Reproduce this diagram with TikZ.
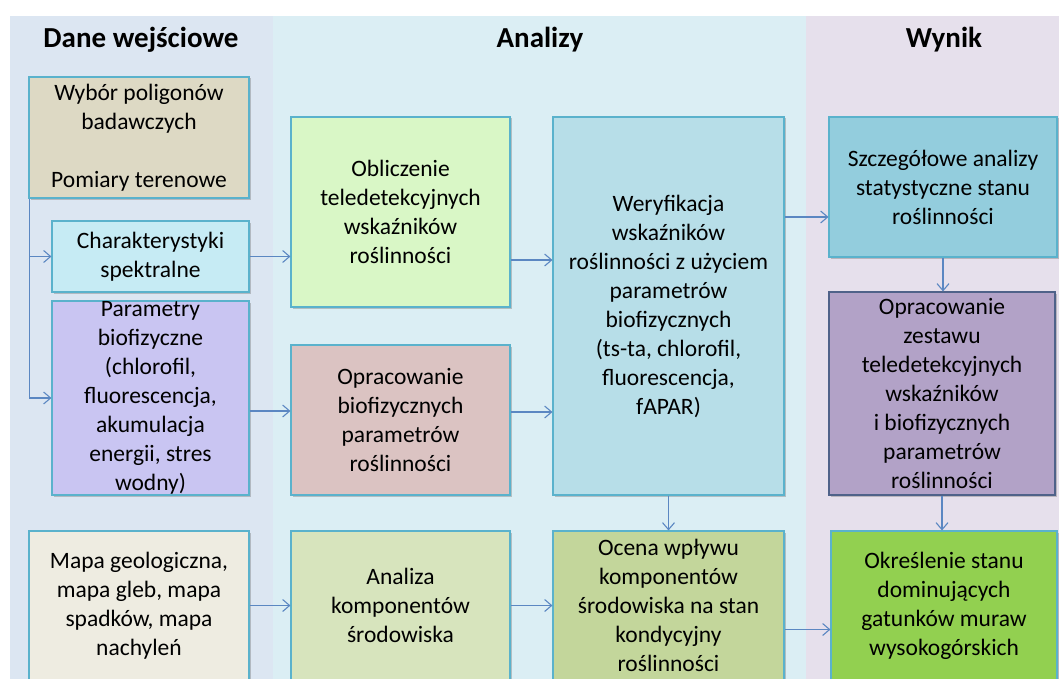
\documentclass[tikz,border=0pt]{standalone}
\usepackage{fontspec}
\setmainfont{Carlito}
\usetikzlibrary{arrows.meta,shadows}

% Kolory tła kolumn
\definecolor{tloA}{HTML}{DCE6F2}
\definecolor{tloB}{HTML}{DBEEF4}
\definecolor{tloC}{HTML}{E6E0EC}
% Kolory ramek i strzałek
\definecolor{ramka}{HTML}{5AB2CC}
\definecolor{ramkaZ}{HTML}{4F6289}
\definecolor{strzalki}{HTML}{5B87C2}
% Wypełnienia bloków
\definecolor{cWybor}{HTML}{DDD9C4}
\definecolor{cCharakt}{HTML}{C6EBF4}
\definecolor{cParam}{HTML}{C9C5F2}
\definecolor{cMapa}{HTML}{EEECE1}
\definecolor{cOblicz}{HTML}{D9F7C6}
\definecolor{cOprBio}{HTML}{DBC3C2}
\definecolor{cAnaliza}{HTML}{D7E4BD}
\definecolor{cWeryf}{HTML}{B7DEE8}
\definecolor{cOcena}{HTML}{C3D69B}
\definecolor{cSzczeg}{HTML}{93CDDD}
\definecolor{cZestaw}{HTML}{B2A2C7}
\definecolor{cOkresl}{HTML}{92D050}

\begin{document}
\begin{tikzpicture}[x=1pt, y=-1pt, >={Straight Barb[length=7pt,width=12pt]},
	box/.style={draw=ramka, line width=1.1pt, inner sep=0pt, align=center,
		font=\fontsize{23.5}{29}\selectfont,
		drop shadow={shadow xshift=1.5pt, shadow yshift=-1.5pt, opacity=0.35, fill=black!60}},
	naglowek/.style={font=\fontsize{29}{34}\selectfont\bfseries},
	strzalka/.style={->, draw=strzalki, line width=1.1pt}]
	
	% Obszar rysunku
	\clip (0,0) rectangle (1059,679);
	
	% Tła kolumn
	\fill[tloA] (10,16) rectangle (273,679);
	\fill[tloB] (273,16) rectangle (806,679);
	\fill[tloC] (806,16) rectangle (1059,679);
	
	% Nagłówki
	\node[naglowek] (hDane) at (141,40) {Dane wejściowe};
	\node[naglowek] (hAnalizy) at (540,40) {Analizy};
	\node[naglowek] (hWynik) at (944,40) {Wynik};
	
	% Dane wejściowe
	\node[box, fill=cWybor, minimum width=220pt, minimum height=121pt] (wybor) at (139,137.5)
		{Wybór poligonów\\badawczych\\[29pt]Pomiary terenowe};
	\node[box, fill=cCharakt, minimum width=197pt, minimum height=71pt] (charakt) at (150.5,256.5)
		{Charakterystyki\\spektralne};
	\node[box, fill=cParam, minimum width=197pt, minimum height=194pt] (param) at (150.5,398)
		{Parametry\\biofizyczne\\(chlorofil,\\fluorescencja,\\akumulacja\\energii, stres\\wodny)};
	\node[box, fill=cMapa, minimum width=220pt, minimum height=149pt] (mapa) at (139,605.5)
		{Mapa geologiczna,\\mapa gleb, mapa\\spadków, mapa\\nachyleń};
	
	% Analizy
	\node[box, fill=cOblicz, minimum width=219pt, minimum height=190pt] (oblicz) at (400.5,212)
		{Obliczenie\\teledetekcyjnych\\wskaźników\\roślinności};
	\node[box, fill=cOprBio, minimum width=219pt, minimum height=150pt] (oprbio) at (400.5,420)
		{Opracowanie\\biofizycznych\\parametrów\\roślinności};
	\node[box, fill=cAnaliza, minimum width=219pt, minimum height=149pt] (analiza) at (400.5,605.5)
		{Analiza\\komponentów\\środowiska};
	\node[box, fill=cWeryf, minimum width=231pt, minimum height=378pt] (weryf) at (668.5,306)
		{Weryfikacja\\wskaźników\\roślinności z użyciem\\parametrów\\biofizycznych\\(ts-ta, chlorofil,\\fluorescencja,\\fAPAR)};
	\node[box, fill=cOcena, minimum width=231pt, minimum height=149pt] (ocena) at (668.5,605.5)
		{Ocena wpływu\\komponentów\\środowiska na stan\\kondycyjny\\roślinności};
	
	% Wynik
	\node[box, fill=cSzczeg, minimum width=228pt, minimum height=140pt] (szczeg) at (943,187)
		{Szczegółowe analizy\\statystyczne stanu\\roślinności};
	\node[box, draw=ramkaZ, fill=cZestaw, minimum width=226pt, minimum height=203pt] (zestaw) at (942,393.5)
		{Opracowanie\\zestawu\\teledetekcyjnych\\wskaźników\\i biofizycznych\\parametrów\\roślinności};
	\node[box, fill=cOkresl, minimum width=226pt, minimum height=149pt] (okresl) at (944,605.5)
		{Określenie stanu\\dominujących\\gatunków muraw\\wysokogórskich};
	
	% Strzałki z danych wejściowych
	\coordinate (pien) at ([xshift=1pt]wybor.south west);
	\draw[strzalka] (pien) |- (charakt.west);
	\draw[strzalka] (pien) |- (param.west);
	\draw[strzalka] (charakt.east) -- (charakt.east -| oblicz.west);
	\coordinate (wyP) at ([yshift=-13pt]param.east);
	\draw[strzalka] (wyP) -- (wyP -| oprbio.west);
	\draw[strzalka] (mapa.east) -- (mapa.east -| analiza.west);
	
	% Strzałki między analizami
	\coordinate (wyO) at ([yshift=-48pt]oblicz.east);
	\draw[strzalka] (wyO) -- (wyO -| weryf.west);
	\coordinate (wyB) at ([yshift=8pt]oprbio.east);
	\draw[strzalka] (wyB) -- (wyB -| weryf.west);
	\draw[strzalka] (analiza.east) -- (analiza.east -| ocena.west);
	\draw[strzalka] (weryf.south) -- (weryf.south |- ocena.north);
	
	% Strzałki do wyników
	\coordinate (wyW) at ([yshift=89pt]weryf.east);
	\draw[strzalka] (wyW) -- (wyW -| szczeg.west);
	\draw[strzalka] (szczeg.south) -- (szczeg.south |- zestaw.north);
	\draw[strzalka] (zestaw.south) -- (zestaw.south |- okresl.north);
	\coordinate (wyC) at ([yshift=-24pt]ocena.east);
	\draw[strzalka] (wyC) -- (wyC -| okresl.west);
\end{tikzpicture}
\end{document}
